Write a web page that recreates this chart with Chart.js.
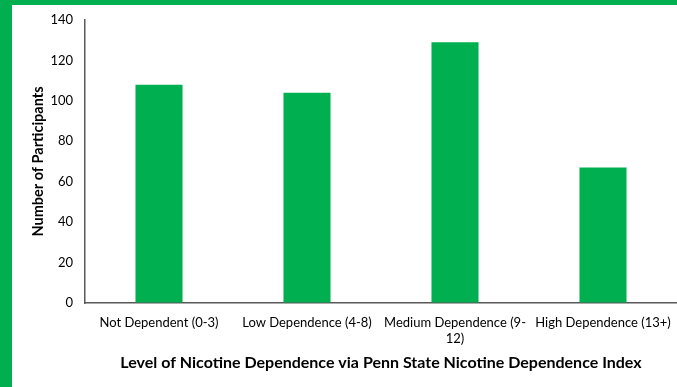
<!DOCTYPE html>
<html>
<head>
<meta charset="utf-8">
<script src="https://cdn.jsdelivr.net/npm/chart.js@4"></script>
<style>
html,body{margin:0;padding:0;background:#fff;}
#wrap{position:relative;width:677px;height:387px;}
#frame{position:absolute;left:0;top:0;width:677px;height:387px;box-sizing:border-box;border-left:12px solid #00B050;border-top:5px solid #00B050;pointer-events:none;}
canvas{position:absolute;left:0;top:0;}
</style>
</head>
<body>
<div id="wrap">
<canvas id="c" width="677" height="387"></canvas>
<div id="frame"></div>
</div>
<script>
const categories = ["Not Dependent (0-3)", "Low Dependence (4-8)", ["Medium Dependence (9-", "12)"], "High Dependence (13+)"];
const participants = [108, 104, 129, 67];
const yTicks = [0, 20, 40, 60, 80, 100, 120, 140];
const xTitle = "Level of Nicotine Dependence via Penn State Nicotine Dependence Index";
const yTitle = "Number of Participants";

const FONT = "Lato, 'Open Sans', sans-serif";
new Chart(document.getElementById('c'), {
  type: 'bar',
  data: {
    labels: categories,
    datasets: [{
      data: participants,
      backgroundColor: '#00B050',
      barPercentage: 0.318,
      categoryPercentage: 1
    }]
  },
  options: {
    responsive: false,
    animation: false,
    devicePixelRatio: 1,
    layout: {padding: {top: 20, left: 0, right: -2, bottom: 0}},
    plugins: {legend: {display: false}, tooltip: {enabled: false}},
    scales: {
      x: {
        grid: {display: true, drawOnChartArea: false, drawTicks: false, color: 'rgba(0,0,0,0)'},
        border: {display: true, color: '#595959', width: 1.5},
        ticks: {color: '#000', padding: 12, font: {family: FONT, size: 13}, maxRotation: 0, autoSkip: false, lineHeight: 1.25},
        title: {display: true, text: xTitle, color: '#000', font: {family: FONT, size: 16, weight: 'bold'}, padding: {top: 0, bottom: 15}},
        afterFit: s => { s.height = 84; s.paddingLeft = 0; s.paddingRight = 0; }
      },
      y: {
        min: 0, max: 140,
        afterBuildTicks: s => { s.ticks = yTicks.map(v => ({value: v})); },
        grid: {display: true, drawOnChartArea: false, drawTicks: false, color: 'rgba(0,0,0,0)'},
        border: {display: true, color: '#595959', width: 1.5},
        ticks: {color: '#000', padding: 12, font: {family: FONT, size: 13}},
        title: {display: true, text: yTitle, color: '#000', font: {family: FONT, size: 14.5, weight: 'bold'}, padding: {top: 30}},
        afterFit: s => { s.width = 85; }
      }
    }
  }
});
</script>
</body>
</html>
